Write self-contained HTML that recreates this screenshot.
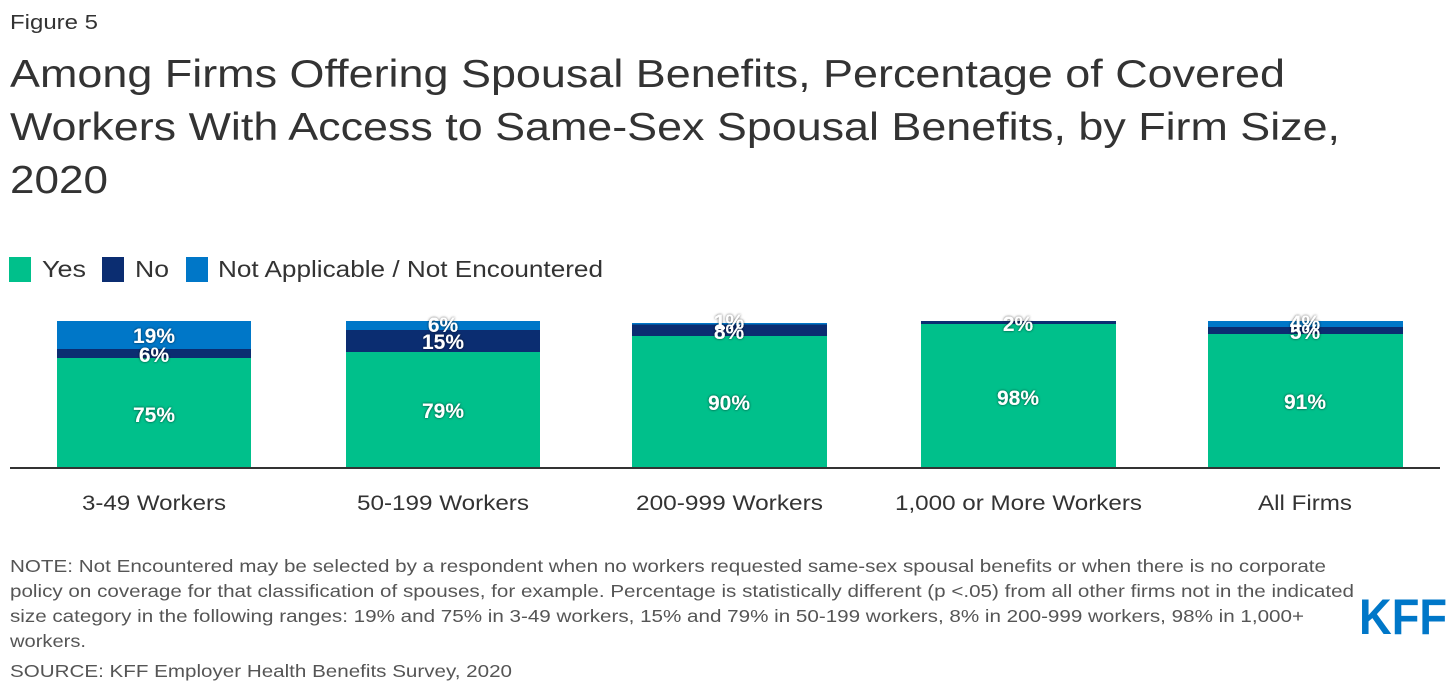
<!DOCTYPE html>
<html><head><meta charset="utf-8"><style>
body{margin:0;background:#fff;width:1448px;height:694px;overflow:hidden;font-family:"Liberation Sans",Arial,sans-serif;}
svg text{font-family:"Liberation Sans",Arial,sans-serif;}
</style></head><body>
<svg width="1448" height="694" xmlns="http://www.w3.org/2000/svg">
<defs><filter id="sh"><feDropShadow dx="0" dy="0" stdDeviation="1.2" flood-color="#000" flood-opacity="0.7"/></filter></defs>
<text x="10" y="29" font-size="20" fill="#333" textLength="88" lengthAdjust="spacingAndGlyphs">Figure 5</text>
<g font-size="39" fill="#333">
<text x="10" y="87" textLength="1275" lengthAdjust="spacingAndGlyphs">Among Firms Offering Spousal Benefits, Percentage of Covered</text>
<text x="10" y="140" textLength="1330" lengthAdjust="spacingAndGlyphs">Workers With Access to Same-Sex Spousal Benefits, by Firm Size,</text>
<text x="10" y="193" textLength="98" lengthAdjust="spacingAndGlyphs">2020</text></g>
<rect x="9" y="257" width="22" height="25" fill="#00c08b"/><text x="42" y="277" font-size="23" fill="#333" textLength="44" lengthAdjust="spacingAndGlyphs">Yes</text>
<rect x="102" y="257" width="22" height="25" fill="#0b2d71"/><text x="135" y="277" font-size="23" fill="#333" textLength="34" lengthAdjust="spacingAndGlyphs">No</text>
<rect x="186" y="257" width="22" height="25" fill="#0077c8"/><text x="218" y="277" font-size="23" fill="#333" textLength="385" lengthAdjust="spacingAndGlyphs">Not Applicable / Not Encountered</text>
<rect x="57" y="321" width="194" height="28" fill="#0077c8"/><rect x="57" y="349" width="194" height="9" fill="#0b2d71"/><rect x="57" y="358" width="194" height="110" fill="#00c08b"/>
<rect x="346" y="321" width="194" height="9" fill="#0077c8"/><rect x="346" y="330" width="194" height="22" fill="#0b2d71"/><rect x="346" y="352" width="194" height="116" fill="#00c08b"/>
<rect x="632" y="323" width="195" height="2" fill="#0077c8"/><rect x="632" y="324.5" width="195" height="12" fill="#0b2d71"/><rect x="632" y="336" width="195" height="132" fill="#00c08b"/>
<rect x="921" y="321" width="195" height="3.5" fill="#0b2d71"/><rect x="921" y="324" width="195" height="144" fill="#00c08b"/>
<rect x="1208" y="321" width="195" height="6" fill="#0077c8"/><rect x="1208" y="327" width="195" height="7.5" fill="#0b2d71"/><rect x="1208" y="334" width="195" height="134" fill="#00c08b"/>
<line x1="10" y1="468" x2="1440" y2="468" stroke="#333" stroke-width="2"/>
<g font-size="21" font-weight="bold" fill="#fff" text-anchor="middle" filter="url(#sh)">
<text x="154" y="343">19%</text><text x="154" y="362">6%</text><text x="154" y="422">75%</text>
<text x="443" y="332">6%</text><text x="443" y="349">15%</text><text x="443" y="418">79%</text>
<text x="729" y="329">1%</text><text x="729" y="339">8%</text><text x="729" y="410">90%</text>
<text x="1018" y="331">2%</text><text x="1018" y="405">98%</text>
<text x="1305" y="330">4%</text><text x="1305" y="339">5%</text><text x="1305" y="409">91%</text>
</g>
<g font-size="21" fill="#333">
<text x="82" y="510" textLength="144" lengthAdjust="spacingAndGlyphs">3-49 Workers</text>
<text x="357" y="510" textLength="172" lengthAdjust="spacingAndGlyphs">50-199 Workers</text>
<text x="636" y="510" textLength="187" lengthAdjust="spacingAndGlyphs">200-999 Workers</text>
<text x="895" y="510" textLength="247" lengthAdjust="spacingAndGlyphs">1,000 or More Workers</text>
<text x="1258" y="510" textLength="94" lengthAdjust="spacingAndGlyphs">All Firms</text>
</g>
<g font-size="17.5" fill="#555">
<text x="10" y="572" textLength="1316" lengthAdjust="spacingAndGlyphs">NOTE: Not Encountered may be selected by a respondent when no workers requested same-sex spousal benefits or when there is no corporate</text>
<text x="10" y="597" textLength="1344" lengthAdjust="spacingAndGlyphs">policy on coverage for that classification of spouses, for example. Percentage is statistically different (p &lt;.05) from all other firms not in the indicated</text>
<text x="10" y="622" textLength="1294" lengthAdjust="spacingAndGlyphs">size category in the following ranges: 19% and 75% in 3-49 workers, 15% and 79% in 50-199 workers, 8% in 200-999 workers, 98% in 1,000+</text>
<text x="10" y="647" textLength="76" lengthAdjust="spacingAndGlyphs">workers.</text>
<text x="10" y="677" textLength="502" lengthAdjust="spacingAndGlyphs">SOURCE: KFF Employer Health Benefits Survey, 2020</text>
</g>
<text x="1359" y="634" font-size="50" font-weight="bold" fill="#0077c8" textLength="88" lengthAdjust="spacingAndGlyphs">KFF</text>
</svg>
</body></html>
